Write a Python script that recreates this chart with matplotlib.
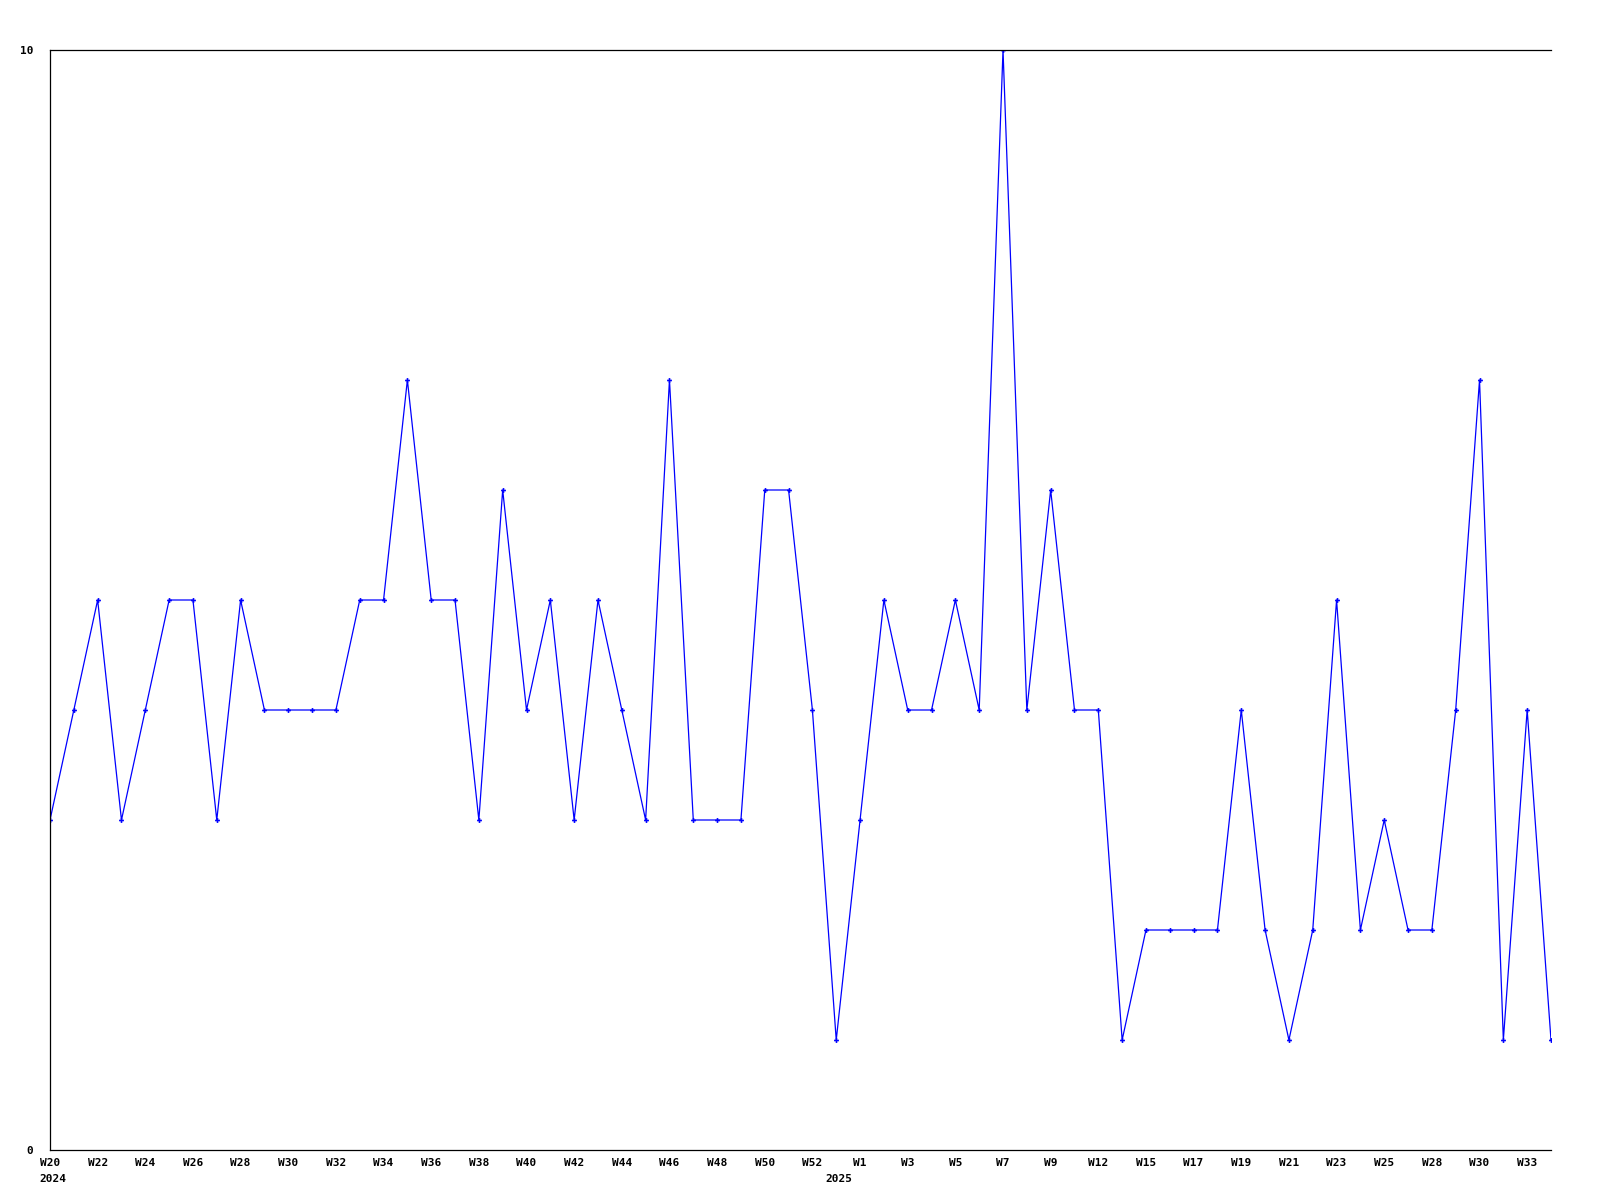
import matplotlib
matplotlib.use("Agg")
import matplotlib.pyplot as plt
from matplotlib.transforms import offset_copy

values = [3, 4, 5, 3, 4, 5, 5, 3, 5, 4, 4, 4, 4, 5, 5, 7, 5, 5, 3, 6,
          4, 5, 3, 5, 4, 3, 7, 3, 3, 3, 6, 6, 4, 1, 3, 5, 4, 4, 5, 4,
          10, 4, 6, 4, 4, 1, 2, 2, 2, 2, 4, 2, 1, 2, 5, 2, 3, 2, 2, 4,
          7, 1, 4, 1]
tick_pos = list(range(0, 64, 2))
tick_labels = ["W20", "W22", "W24", "W26", "W28", "W30", "W32", "W34", "W36",
               "W38", "W40", "W42", "W44", "W46", "W48", "W50", "W52", "W1",
               "W3", "W5", "W7", "W9", "W12", "W15", "W17", "W19", "W21",
               "W23", "W25", "W28", "W30", "W33"]
year_pos = [0, 33]
year_labels = ["2024", "2025"]

font = dict(family="DejaVu Sans Mono", fontsize=8, fontweight="bold")

fig = plt.figure(figsize=(16, 12), dpi=100)
ax = fig.add_axes([50 / 1600, 1 - 1150 / 1200, 1501 / 1600, 1100 / 1200])
x = list(range(len(values)))
ax.plot(x, values, color="#0000ff", lw=0.9, marker="P", ms=3.5,
        markeredgewidth=0)
ax.set_xlim(0, len(values) - 1)
ax.set_ylim(0, 10)
ax.spines["right"].set_visible(False)
for s in ("left", "top", "bottom"):
    ax.spines[s].set_linewidth(0.9)
ax.set_xticks(tick_pos)
ax.set_xticklabels(tick_labels, **font)
ax.set_yticks([0, 10])
ax.set_yticklabels(["0", "10"], **font)
ax.tick_params(length=0, pad=6)
ax.tick_params(axis="y", pad=12)
# year labels under the first week of each year, left-aligned
year_tr = offset_copy(ax.get_xaxis_transform(), fig=fig, x=-11, y=0,
                      units="dots")
for p, lab in zip(year_pos, year_labels):
    ax.text(p, -0.022, lab, ha="left", va="top", transform=year_tr, **font)
fig.savefig("out.png", dpi=100)
